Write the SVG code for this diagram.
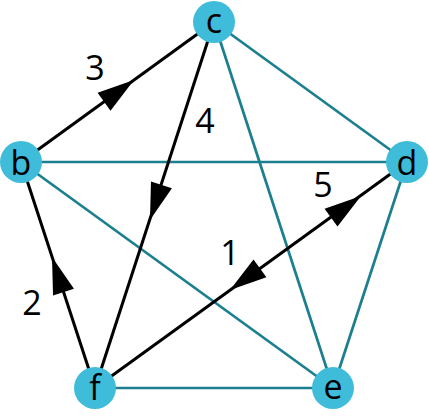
<svg xmlns="http://www.w3.org/2000/svg" width="429" height="416" viewBox="0 0 429 416">
<style>
.t{stroke:#1b7f8f;stroke-width:2.7;fill:none}
.k{stroke:#000;stroke-width:3;fill:none}
.n{fill:#3ebcd9}
.lbl{font-family:"Open Sans","Noto Sans",sans-serif;font-size:34px;fill:#000;text-anchor:middle}
</style>
<defs>
<polygon id="ah" points="0,0 -37,-11 -37,11" fill="#000"/>
</defs>
<rect width="429" height="416" fill="#fff"/>
<g id="connectors">
<line class="t" x1="214" y1="22" x2="407" y2="162"/>
<line class="t" x1="214" y1="22" x2="333" y2="388"/>
<line class="t" x1="21" y1="162" x2="407" y2="162"/>
<line class="t" x1="21" y1="162" x2="333" y2="388"/>
<line class="t" x1="407" y1="162" x2="333" y2="388"/>
<line class="t" x1="95" y1="388" x2="333" y2="388"/>
<line class="k" x1="21" y1="162" x2="214" y2="22"/>
<line class="k" x1="214" y1="22" x2="95" y2="388"/>
<line class="k" x1="95" y1="388" x2="21" y2="162"/>
<line class="k" x1="95" y1="388" x2="407" y2="162"/>
<use href="#ah" transform="translate(134,80) rotate(-35.96)"/>
<use href="#ah" transform="translate(150,220) rotate(108)"/>
<use href="#ah" transform="translate(52,257) rotate(-108.1)"/>
<use href="#ah" transform="translate(361,196) rotate(-35.92)"/>
<use href="#ah" transform="translate(230,290) rotate(144.08)"/>
<text class="lbl" x="95" y="80">3</text>
<text class="lbl" x="205" y="133">4</text>
<text class="lbl" x="323" y="197">5</text>
<text class="lbl" x="230" y="265">1</text>
<text class="lbl" x="32" y="315">2</text>
</g>
<g id="node-c"><circle class="n" cx="214" cy="22" r="21"/><text class="lbl" x="214" y="33">c</text></g>
<g id="node-b"><circle class="n" cx="21" cy="162" r="21"/><text class="lbl" x="21" y="175">b</text></g>
<g id="node-d"><circle class="n" cx="407" cy="162" r="21"/><text class="lbl" x="407" y="175">d</text></g>
<g id="node-f"><circle class="n" cx="95" cy="388" r="21"/><text class="lbl" x="95" y="400">f</text></g>
<g id="node-e"><circle class="n" cx="333" cy="388" r="21"/><text class="lbl" x="333" y="399">e</text></g>
</svg>
